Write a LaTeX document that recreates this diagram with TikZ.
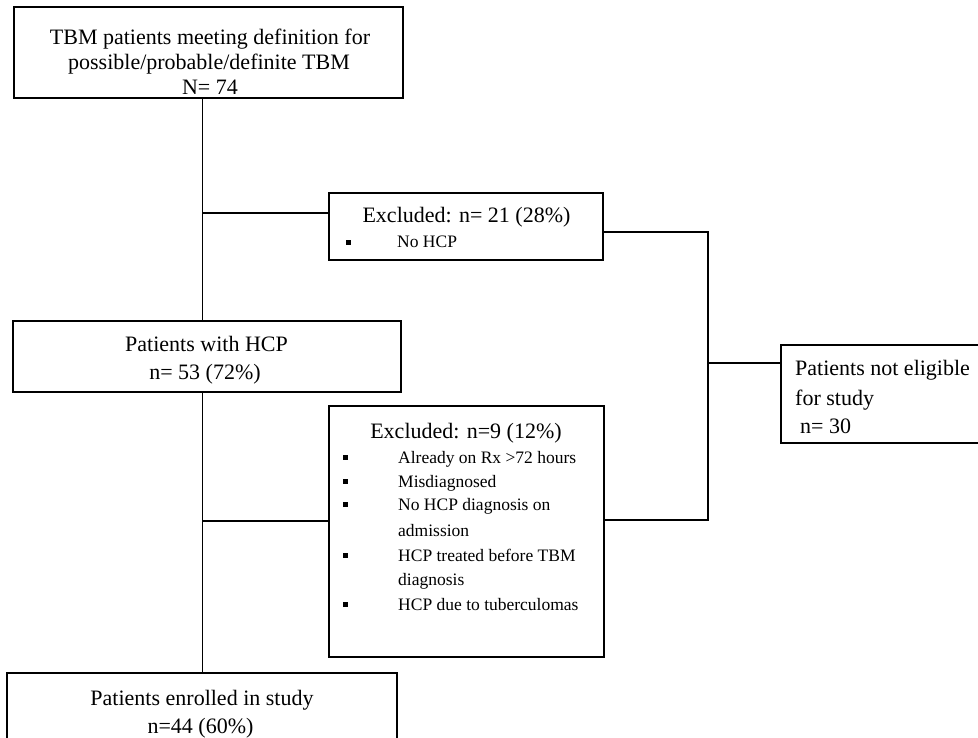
\documentclass[tikz,border=0pt]{standalone}
\usepackage{fontspec}
\setmainfont{Liberation Serif}
\begin{document}
\begin{tikzpicture}[x=1pt,y=-1pt,
  box/.style={draw, line width=2.2pt, fill=white, inner sep=0pt},
  conn/.style={line width=1.9pt},
  hd/.style={font=\fontsize{22}{25}\selectfont, anchor=base, inner sep=0pt},
  hdl/.style={font=\fontsize{22}{25}\selectfont, anchor=base west, inner sep=0pt},
  itm/.style={font=\fontsize{17.5}{21}\selectfont, anchor=base west, inner sep=0pt},
  bul/.style={rectangle, fill=black, inner sep=0pt, minimum size=5pt}]
\useasboundingbox (0,0) rectangle (978,738);

% boxes
\node[box, minimum width=389pt, minimum height=91pt] (b1) at (208.5,52.5) {};
\node[box, minimum width=388pt, minimum height=71pt] (hcp) at (207,356.5) {};
\node[box, minimum width=274pt, minimum height=67pt] (exc1) at (466,226.5) {};
\node[box, minimum width=275pt, minimum height=251pt] (exc2) at (466.5,531.5) {};
\node[box, minimum width=209pt, minimum height=98pt] (ne) at (885.5,394) {};
\node[box, minimum width=390pt, minimum height=87pt] (enr) at (202,716.5) {};

% connectors
\coordinate (spine) at (202.5,0);
\draw[conn] (spine |- b1.south) -- (spine |- hcp.north);
\draw[conn] (spine |- hcp.south) -- (spine |- enr.north);
\coordinate (ja) at (202.5,213);
\draw[conn] (ja) -- (ja -| exc1.west);
\coordinate (jb) at (202.5,521);
\draw[conn] (jb) -- (jb -| exc2.west);
\coordinate (ra) at (708,232);
\coordinate (rb) at (708,520);
\draw[conn] (ra -| exc1.east) -- (ra) -- (rb) -- (rb -| exc2.east);
\coordinate (rm) at (708,363);
\draw[conn] (rm) -- (rm -| ne.west);

% texts: box 1
\node[hd] (t1a) at (210,45) {TBM patients meeting definition for};
\node[hd] (t1b) at (209,70) {possible/probable/definite TBM};
\node[hd] (t1c) at (210,95) {N= 74};
% HCP box
\node[hd] (t2a) at (206.5,352) {Patients with HCP};
\node[hd] (t2b) at (205,379) {n= 53 (72\%)};
% excluded 1
\node[hd] (t3a) at (466.5,223) {Excluded: n= 21 (28\%)};
\node[bul] (b3a) at (348,242.5) {};
\node[itm] (t3b) at (397,248) {No HCP};
% excluded 2
\node[hd] (t4a) at (466,438) {Excluded: n=9 (12\%)};
\node[bul] (b4a) at (345,457) {};
\node[itm] (t4b) at (398,463) {Already on Rx >72 hours};
\node[bul] (b4b) at (345,481) {};
\node[itm] (t4c) at (398,487) {Misdiagnosed};
\node[bul] (b4c) at (345,504.5) {};
\node[itm] (t4d) at (398,510.5) {No HCP diagnosis on};
\node[itm] (t4e) at (398,536) {admission};
\node[bul] (b4d) at (345,555) {};
\node[itm] (t4f) at (398,561) {HCP treated before TBM};
\node[itm] (t4g) at (398,585) {diagnosis};
\node[bul] (b4e) at (345,604) {};
\node[itm] (t4h) at (398,610) {HCP due to tuberculomas};
% not eligible
\node[hdl] (t5a) at (795,375) {Patients not eligible};
\node[hdl] (t5b) at (795,405) {for study};
\node[hdl] (t5c) at (800,433) {n= 30};
% enrolled
\node[hd] (t6a) at (202,705) {Patients enrolled in study};
\node[hd] (t6b) at (200.5,733) {n=44 (60\%)};
\end{tikzpicture}
\end{document}
